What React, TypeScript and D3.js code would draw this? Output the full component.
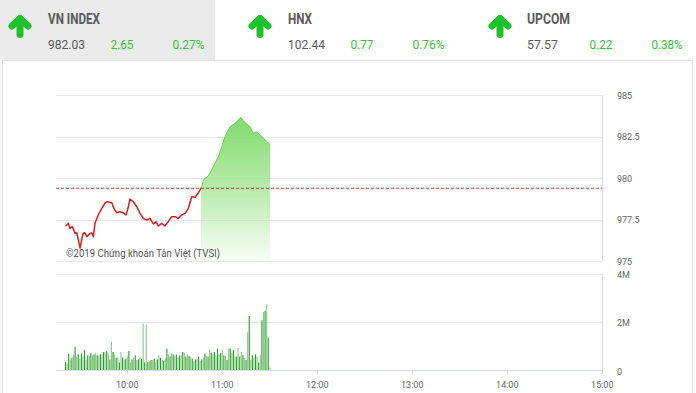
import React from 'react';
import * as d3 from 'd3';

// ---------- DATA ----------
const indexNames = ['VN INDEX', 'HNX', 'UPCOM'];
const indexValues = ['982.03', '102.44', '57.57'];
const indexChanges = ['2.65', '0.77', '0.22'];
const indexPcts = ['0.27%', '0.76%', '0.38%'];

// minutes after 09:00
const priceTimes = [21.1, 22.8, 23.8, 25.3, 27.0, 28.1, 29.1, 30.2, 31.2, 32.2, 33.3, 34.4, 35.4, 37.5, 38.6, 39.6, 41.7, 43.9, 45.9, 47.4, 50.2, 51.6, 53.3, 55.4, 57.5, 59.2, 60.7, 61.7, 63.8, 66.0, 68.1, 70.1, 72.3, 74.4, 76.5, 78.2, 79.6, 81.8, 83.8, 85.9, 88.1, 90.2, 92.2, 94.4, 96.5, 98.6, 100.7, 102.8, 104.9, 107.0, 108.0, 111.2, 113.3, 115.4, 117.5, 119.7, 121.7, 124.9, 128.1, 130.1, 131.7, 133.3, 135.4, 137.5, 139.6, 141.8, 143.8, 145.9, 148.1, 150.2];
const priceValues = [977.11, 977.27, 976.97, 977.07, 976.67, 976.70, 976.27, 975.77, 976.27, 976.67, 976.70, 976.46, 976.57, 976.70, 976.46, 977.27, 977.77, 978.17, 978.48, 978.57, 978.51, 978.17, 977.91, 977.97, 977.91, 977.77, 978.27, 978.73, 978.57, 978.27, 977.87, 977.57, 977.47, 977.57, 977.23, 977.37, 977.11, 977.27, 977.11, 977.37, 977.67, 977.67, 977.57, 977.77, 977.87, 978.17, 978.87, 978.84, 979.11, 979.44, 979.88, 980.12, 980.48, 980.89, 981.28, 981.89, 982.49, 983.09, 983.30, 983.49, 983.66, 983.45, 983.25, 983.09, 982.69, 982.79, 982.59, 982.39, 982.19, 982.03];
const referencePrice = 979.38;

// volume per minute (millions), first bar at 09:21
const volumeStartMinute = 21;
const volumes = [
  0.33, 0.28, 0.68, 0.44, 0.51, 0.65, 0.97, 0.56, 0.65, 0.47, 0.69, 0.56, 0.83, 0.44, 0.61, 0.58,
  0.69, 0.61, 0.65, 0.72, 0.61, 0.58, 0.65, 0.65, 0.75, 0.75, 0.78, 0.69, 0.44, 1.17, 0.75, 0.65, 0.51, 0.51, 0.31, 0.75, 0.52,
  0.44, 0.47, 0.58, 0.79, 0.31, 0.44, 0.51, 0.61, 0.42, 0.44, 0.51, 0.47,
  1.93, 0.31, 1.89,
  0.33, 0.38, 0.42, 0.42, 0.47, 0.33, 0.44, 0.61, 0.51, 0.42, 0.38, 0.47, 0.89, 0.65, 0.56, 0.69, 0.65, 0.58, 0.65, 0.51, 0.60,
  0.61, 0.75, 0.72, 0.56, 0.65, 0.58, 0.56, 0.47, 0.38, 0.44, 0.47, 0.56, 0.38, 0.44, 0.51, 0.69, 0.58, 0.56, 0.86, 0.72, 0.66,
  0.75, 0.61, 0.89, 0.65, 0.72, 0.83, 0.61, 0.58, 0.42, 0.89, 0.89, 0.72, 0.83, 0.56, 0.56, 0.93, 0.56, 0.75, 0.62, 0.51, 0.42,
  1.58, 2.25,
  0.42, 0.61, 0.51, 0.65, 0.56, 0.31, 0.61, 2.07, 2.42, 2.46, 2.74, 1.35, 0.10,
];

const priceTicks = [975, 977.5, 980, 982.5, 985];
const volumeTicks = [0, 2, 4];
const volumeTickLabels = ['0', '2M', '4M'];
const timeTickMinutes = [60, 120, 180, 240, 300, 360];
const timeTickLabels = ['10:00', '11:00', '12:00', '13:00', '14:00', '15:00'];
const copyright = '©2019 Chứng khoán Tân Việt (TVSI)';

// ---------- LAYOUT ----------
const W = 696, H = 393;
const x = d3.scaleLinear().domain([15, 360]).range([56, 602.3]);
const yP = d3.scaleLinear().domain([975, 985]).range([261, 95]);
const yV = d3.scaleLinear().domain([0, 4]).range([370, 274]);

const arrowCX = [20, 260, 500];
const textX = [48, 288, 527];
const nameW = [52, 24, 43];
const valW = [37, 37, 31];
const chgW = [23, 23, 23];
const pctW = [32, 32, 31];

const GREEN_TXT = '#34c634';
const GREY_TXT = '#5a5a5a';
const FONT = 'Roboto, "Noto Sans", sans-serif';

export default function App() {
  const pts = priceTimes.map((t, i) => ({ t, v: priceValues[i] }));
  let crossT = priceTimes[priceTimes.length - 1];
  for (let i = 1; i < pts.length; i++) {
    if (pts[i - 1].v < referencePrice && pts[i].v >= referencePrice) {
      const f = (referencePrice - pts[i - 1].v) / (pts[i].v - pts[i - 1].v);
      crossT = pts[i - 1].t + f * (pts[i].t - pts[i - 1].t);
      break;
    }
  }
  const xc = x(crossT);
  const line = d3.line<{ t: number; v: number }>().x(d => x(d.t)).y(d => yP(d.v));
  const area = d3.area<{ t: number; v: number }>().x(d => x(d.t)).y0(yP(975)).y1(d => yP(d.v));

  const gridX0 = x(15), gridX1 = x(360);

  return (
    <svg width={W} height={H} style={{ position: 'absolute', left: 0, top: 0, display: 'block', background: '#fff' }} fontFamily={FONT}>
      <defs>
        <linearGradient id="gArea" gradientUnits="userSpaceOnUse" x1="0" y1={yP(983.7)} x2="0" y2={yP(975)}>
          <stop offset="0" stopColor="rgb(125,218,105)" stopOpacity="1" />
          <stop offset="0.55" stopColor="rgb(160,229,143)" stopOpacity="0.7" />
          <stop offset="1" stopColor="rgb(180,235,165)" stopOpacity="0.1" />
        </linearGradient>
        <clipPath id="clipUp"><rect x={xc} y={0} width={W} height={H} /></clipPath>
        <clipPath id="clipDown"><rect x={0} y={0} width={xc} height={H} /></clipPath>
      </defs>

      {/* header */}
      <rect x={0} y={0} width={215} height={60} fill="#ebebeb" />
      <rect x={2.5} y={60.5} width={690} height={340} fill="none" stroke="#e2e2e2" />
      {indexNames.map((n, i) => {
        const ax = arrowCX[i];
        const tx = textX[i];
        return (
          <g key={n}>
            <path d={`M${ax},19 V34.5`} stroke="#1ec22a" strokeWidth={7} strokeLinecap="round" fill="none" />
            <path d={`M${ax - 8},26 L${ax},18.5 L${ax + 8},26`} stroke="#1ec22a" strokeWidth={7} strokeLinecap="round" strokeLinejoin="round" fill="none" />
            <text x={tx} y={24} fontSize={14.5} fontWeight="bold" fill={GREY_TXT} textLength={nameW[i]} lengthAdjust="spacingAndGlyphs">{n}</text>
            <text x={tx} y={49} fontSize={13.5} fill={GREY_TXT} textLength={valW[i]} lengthAdjust="spacingAndGlyphs">{indexValues[i]}</text>
            <text x={tx + 62.5} y={49} fontSize={13.5} fill={GREEN_TXT} textLength={chgW[i]} lengthAdjust="spacingAndGlyphs">{indexChanges[i]}</text>
            <text x={tx + 124.5} y={49} fontSize={13.5} fill={GREEN_TXT} textLength={pctW[i]} lengthAdjust="spacingAndGlyphs">{indexPcts[i]}</text>
          </g>
        );
      })}

      {/* price panel grid */}
      {priceTicks.map(t => (
        <g key={t}>
          <line x1={gridX0} x2={gridX1} y1={Math.round(yP(t)) + 0.5} y2={Math.round(yP(t)) + 0.5} stroke="#e6e6e6" />
          <text x={617} y={yP(t) + 3.5} fontSize={9} fill="#666">{t}</text>
        </g>
      ))}
      <line x1={Math.round(gridX1) + 0.5} x2={Math.round(gridX1) + 0.5} y1={yP(985)} y2={yP(975)} stroke="#d8dde6" />

      {/* price area & line */}
      <path d={area(pts) || ''} fill="url(#gArea)" clipPath="url(#clipUp)" />
      <path d={line(pts) || ''} fill="none" stroke="#6ccf5c" strokeWidth={1} clipPath="url(#clipUp)" />
      <path d={line(pts) || ''} fill="none" stroke="#d81e1e" strokeWidth={1.5} strokeLinejoin="round" clipPath="url(#clipDown)" />
      <line x1={gridX0} x2={gridX1} y1={yP(referencePrice)} y2={yP(referencePrice)} stroke="#e03a3a" strokeWidth={1} strokeDasharray="3,2" />

      <text x={66} y={256.5} fontSize={11} fill="#555" textLength={154} lengthAdjust="spacingAndGlyphs">{copyright}</text>

      {/* volume panel grid */}
      {volumeTicks.map((t, i) => (
        <g key={t}>
          <line x1={gridX0} x2={gridX1} y1={Math.round(yV(t)) + 0.5} y2={Math.round(yV(t)) + 0.5} stroke={t === 0 ? '#d8dde6' : '#e6e6e6'} />
          <text x={617} y={yV(t) + (t === 0 ? 5 : 4)} fontSize={9} fill="#666">{volumeTickLabels[i]}</text>
        </g>
      ))}
      <line x1={Math.round(gridX1) + 0.5} x2={Math.round(gridX1) + 0.5} y1={yV(4)} y2={yV(0)} stroke="#d8dde6" />

      {/* volume bars */}
      {volumes.map((v, i) => {
        const xm = x(volumeStartMinute + i);
        return (
          <rect key={i} x={xm - 0.5} width={1.1} y={yV(v)} height={yV(0) - yV(v)} fill={i % 2 === 0 ? '#2b9a2b' : '#85cd85'} />
        );
      })}

      {/* time axis */}
      {timeTickMinutes.map((m, i) => (
        <g key={m}>
          <line x1={Math.round(x(m)) + 0.5} x2={Math.round(x(m)) + 0.5} y1={yV(0)} y2={yV(0) + 4} stroke="#ccd6eb" />
          <text x={x(m)} y={388} fontSize={9} fill="#666" textAnchor="middle">{timeTickLabels[i]}</text>
        </g>
      ))}
    </svg>
  );
}
